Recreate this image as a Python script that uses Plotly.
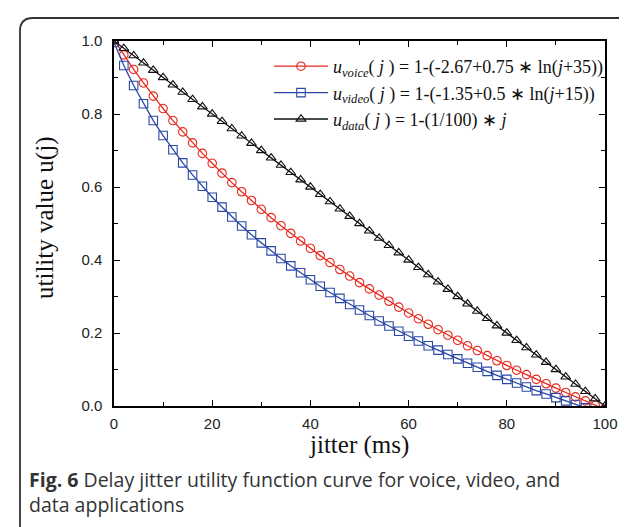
import plotly.graph_objects as go

jitter = [0, 2, 4, 6, 8, 10, 12, 14, 16, 18, 20, 22, 24, 26, 28, 30, 32, 34, 36, 38, 40,
          42, 44, 46, 48, 50, 52, 54, 56, 58, 60, 62, 64, 66, 68, 70, 72, 74, 76, 78, 80,
          82, 84, 86, 88, 90, 92, 94, 96, 98, 100]

u_voice = [1.003, 0.962, 0.922, 0.885, 0.849, 0.815, 0.782, 0.751, 0.721, 0.692, 0.665,
           0.638, 0.612, 0.587, 0.563, 0.539, 0.516, 0.494, 0.473, 0.452, 0.432,
           0.412, 0.393, 0.374, 0.356, 0.338, 0.321, 0.304, 0.287, 0.271, 0.255,
           0.239, 0.224, 0.209, 0.194, 0.180, 0.165, 0.152, 0.138, 0.124, 0.111,
           0.098, 0.086, 0.073, 0.061, 0.049, 0.037, 0.025, 0.014, 0.002, -0.009]

u_video = [0.996, 0.933, 0.878, 0.828, 0.782, 0.741, 0.702, 0.666, 0.633, 0.602, 0.572,
           0.545, 0.518, 0.493, 0.469, 0.447, 0.425, 0.404, 0.384, 0.365, 0.346,
           0.328, 0.311, 0.295, 0.278, 0.263, 0.248, 0.233, 0.219, 0.205, 0.191,
           0.178, 0.165, 0.153, 0.141, 0.129, 0.117, 0.106, 0.095, 0.084, 0.073,
           0.063, 0.052, 0.042, 0.033, 0.023, 0.014, 0.004, -0.005, -0.014, -0.022]

u_data = [1.00, 0.98, 0.96, 0.94, 0.92, 0.90, 0.88, 0.86, 0.84, 0.82, 0.80,
          0.78, 0.76, 0.74, 0.72, 0.70, 0.68, 0.66, 0.64, 0.62, 0.60,
          0.58, 0.56, 0.54, 0.52, 0.50, 0.48, 0.46, 0.44, 0.42, 0.40,
          0.38, 0.36, 0.34, 0.32, 0.30, 0.28, 0.26, 0.24, 0.22, 0.20,
          0.18, 0.16, 0.14, 0.12, 0.10, 0.08, 0.06, 0.04, 0.02, 0.00]

x_ticks = [0, 20, 40, 60, 80, 100]
y_ticks = [0.0, 0.2, 0.4, 0.6, 0.8, 1.0]
y_tick_labels = ["0.0", "0.2", "0.4", "0.6", "0.8", "1.0"]

names = [
    "<i>u</i><sub><i>voice</i></sub>( <i>j</i> ) = 1-(-2.67+0.75 ∗ ln(<i>j</i>+35))",
    "<i>u</i><sub><i>video</i></sub>( <i>j</i> ) = 1-(-1.35+0.5 ∗ ln(<i>j</i>+15))",
    "<i>u</i><sub><i>data</i></sub>( <i>j</i> ) = 1-(1/100) ∗ <i>j</i>",
]

RED = "#e8281e"
BLUE = "#2b47a6"
BLACK = "#111111"

fig = go.Figure()
for ys, nm, col, sym in [(u_voice, names[0], RED, "circle-open"),
                         (u_video, names[1], BLUE, "square-open"),
                         (u_data, names[2], BLACK, "triangle-up-open")]:
    fig.add_trace(go.Scatter(
        x=jitter, y=ys, name=nm, mode="lines+markers",
        line=dict(color=col, width=1.3),
        marker=dict(symbol=sym, size=8.5, color=col, line=dict(width=1.1, color=col)),
    ))

L, R, T, B = 106, 30, 33, 129
W, H = 627, 527
pw, ph = W - L - R, H - T - B

def px2x(px):
    return (px - L) / pw

def py2y(py):
    return (H - B - py) / ph

# rounded frame
x0, x1 = px2x(12), px2x(645)
y0, y1 = py2y(10), py2y(534)
rx, ry = 13 / pw, 13 / ph
path = (f"M {x0+rx},{y0} L {x1-rx},{y0} Q {x1},{y0} {x1},{y0-ry} "
        f"L {x1},{y1+ry} Q {x1},{y1} {x1-rx},{y1} L {x0+rx},{y1} "
        f"Q {x0},{y1} {x0},{y1+ry} L {x0},{y0-ry} Q {x0},{y0} {x0+rx},{y0} Z")

fig.update_layout(
    width=W, height=H,
    margin=dict(l=L, r=R, t=T, b=B),
    paper_bgcolor="white", plot_bgcolor="white",
    showlegend=True,
    legend=dict(x=px2x(261), y=py2y(40), xanchor="left", yanchor="top",
                bgcolor="rgba(0,0,0,0)", itemwidth=54,
                font=dict(family="Liberation Serif", size=18, color="#111")),
    shapes=[dict(type="path", path=path, xref="paper", yref="paper",
                 line=dict(color="#333", width=1.8), layer="above")],
    annotations=[
        dict(text="jitter (ms)", x=px2x(351), y=py2y(437), xref="paper", yref="paper",
             showarrow=False, font=dict(family="Liberation Serif", size=25, color="#111"),
             xanchor="center", yanchor="middle"),
        dict(text="utility value u(j)", x=px2x(37), y=py2y(210), xref="paper", yref="paper",
             showarrow=False, textangle=-90,
             font=dict(family="Liberation Serif", size=25, color="#111"),
             xanchor="center", yanchor="middle"),
        dict(text="<b>Fig. 6</b> Delay jitter utility function curve for voice, video, and<br>data applications",
             x=px2x(19), y=py2y(484), xref="paper", yref="paper", showarrow=False,
             align="left", xanchor="left", yanchor="middle",
             font=dict(family="Open Sans", size=19.5, color="#333")),
    ],
)

axis_common = dict(
    showline=True, linecolor="black", linewidth=1.5, mirror="ticks",
    ticks="inside", ticklen=6, tickwidth=1.2, tickcolor="black",
    showgrid=False, zeroline=False,
    tickfont=dict(family="Liberation Sans", size=15, color="#222"),
)

fig.update_xaxes(range=[0, 100], tickvals=x_ticks, ticklabelstandoff=3,
                 minor=dict(ticks="inside", ticklen=4, tickwidth=1.2, dtick=10, tickcolor="black"),
                 **axis_common)
fig.update_yaxes(range=[0, 1], tickvals=y_ticks, ticktext=y_tick_labels, ticklabelstandoff=7,
                 minor=dict(ticks="inside", ticklen=4, tickwidth=1.2, dtick=0.1, tickcolor="black"),
                 **axis_common)

fig.write_html("out.html")
